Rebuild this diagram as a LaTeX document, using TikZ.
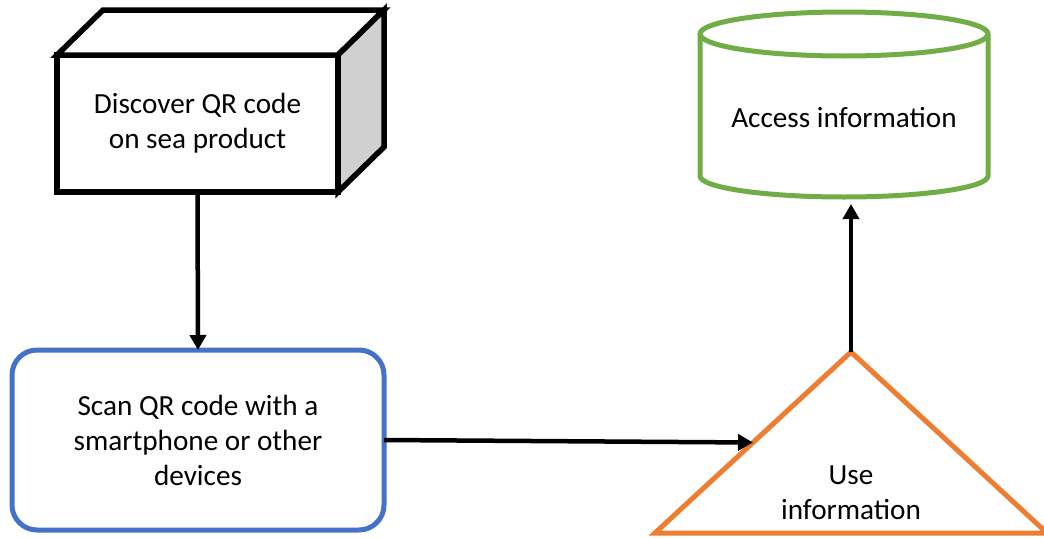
\documentclass[tikz,border=0pt]{standalone}
\usepackage{fontspec}
\setmainfont{Carlito}
\usepackage{xcolor}
\usetikzlibrary{arrows.meta,calc,positioning}
\definecolor{scanblue}{RGB}{68,114,196}
\definecolor{useorange}{RGB}{237,125,49}
\definecolor{accgreen}{RGB}{112,173,71}
\definecolor{sidegray}{RGB}{208,208,208}

\begin{document}
\begin{tikzpicture}[
    x=1pt,y=-1pt,
    >=Latex,
    font=\fontsize{29.2}{35}\selectfont,
    front/.style={
      rectangle,draw=black,fill=white,line width=5.5pt,outer sep=0pt,
      minimum width=281pt,minimum height=137pt,align=center
    },
    scanbox/.style={
      rectangle,rounded corners=25pt,draw=scanblue,fill=white,line width=5pt,
      outer sep=0pt,minimum width=372pt,minimum height=180pt,align=center
    },
    face/.style={draw=black,line width=5.5pt,line join=miter},
    tri/.style={draw=useorange,line width=5pt},
    drum/.style={draw=accgreen,line width=5pt},
    flow/.style={-{Triangle[length=15pt,width=16pt]},line width=4.5pt,color=black}
  ]
    \useasboundingbox (0,0) rectangle (1044,538);

    % box
    \node[front] (discover) at (197.5,123.5) {Discover QR code\\on sea product};
    \draw[face,fill=white] (discover.north west) -- ++(46,-45) -- ++(281,0)
      -- (discover.north east) -- cycle;
    \draw[face,fill=sidegray] (discover.north east) -- ++(46,-45) -- ++(0,137)
      -- (discover.south east) -- cycle;

    \node[scanbox] (scan) at (198,440) {Scan QR code with a\\smartphone or other\\devices};

    % triangle
    \coordinate (apex) at (851,352);
    \coordinate (baseL) at (655,533);
    \coordinate (baseR) at (1047,533);
    \draw[tri] (apex) -- (baseL) -- (baseR) -- cycle;
    \coordinate (useL) at ($(apex)!0.5!(baseL)$);
    \node[align=center] (use) at (851,493) {Use\\information};

    % cylinder
    \draw[drum] (700,34) -- (700,176) arc[start angle=180,end angle=360,x radius=144pt,y radius=21pt]
      -- (988,34);
    \draw[drum] (844,34) ellipse[x radius=144pt,y radius=22pt];
    \node (access) at (844,118) {Access information};
    \coordinate (accbase) at (851,204);

    \draw[flow] (discover.south) -- (scan.north);
    \draw[flow] (scan.east) -- (useL);
    \draw[flow] (apex) -- (accbase);
  \end{tikzpicture}
\end{document}
